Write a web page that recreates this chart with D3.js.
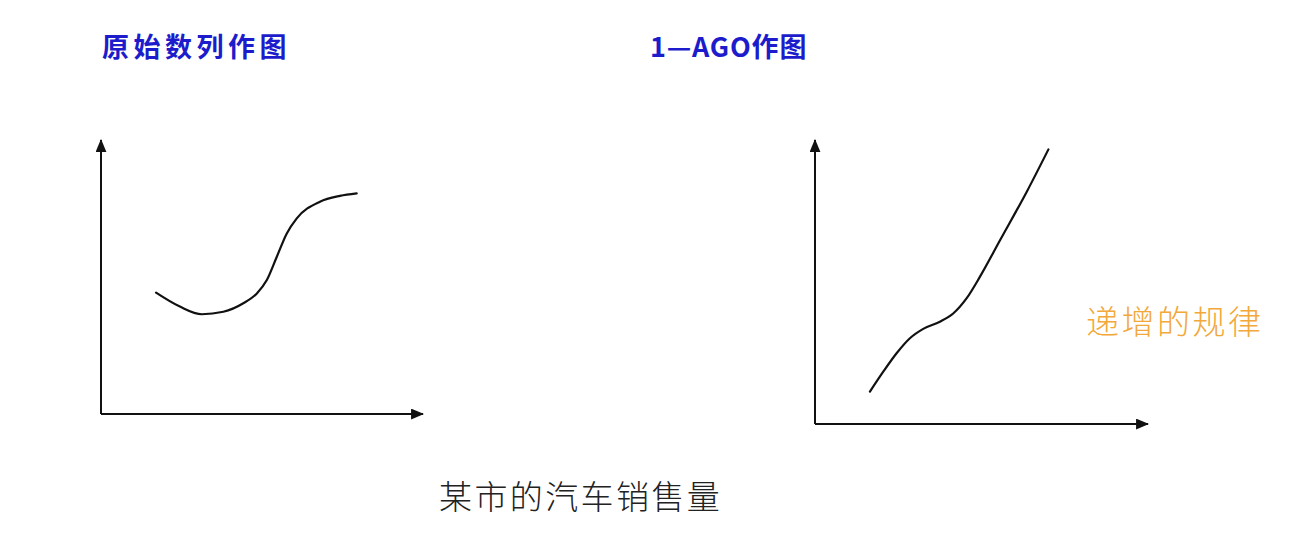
<!DOCTYPE html>
<html>
<head>
<meta charset="utf-8">
<script src="https://cdn.jsdelivr.net/npm/d3@7"></script>
<style>
  html, body { margin: 0; padding: 0; background: #fff; }
  svg { display: block; }
</style>
</head>
<body>
<div id="chart"></div>
<script>
// ---- data ----
const titles = ["原始数列作图", "1—AGO作图"];
const noteText = "递增的规律";
const captionText = "某市的汽车销售量";

// original series (schematic x/y, 0-100 units)
const rawX = [17.1, 24.5, 31.3, 38.0, 44.2, 48.4, 51.5, 54.6, 57.7, 60.8, 68.0, 74.2, 79.4];
const rawY = [44.3, 39.2, 36.4, 37.3, 40.4, 44.0, 48.9, 57.4, 65.9, 71.4, 77.5, 79.6, 80.5];

// 1-AGO accumulated series
const agoX = [16.5, 20.5, 24.5, 28.5, 32.5, 37.5, 41.5, 45.5, 49.5, 55.6, 63.6, 70.1];
const agoY = [11.4, 18.4, 24.9, 30.2, 33.5, 36.0, 38.9, 44.2, 51.8, 64.8, 81.8, 96.7];

const W = 1292, H = 546;
const svg = d3.select("#chart").append("svg").attr("width", W).attr("height", H);

const defs = svg.append("defs");
defs.append("marker")
  .attr("id", "arrow")
  .attr("viewBox", "0 0 12 10")
  .attr("refX", 11).attr("refY", 5)
  .attr("markerWidth", 13).attr("markerHeight", 11)
  .attr("markerUnits", "userSpaceOnUse")
  .attr("orient", "auto")
  .append("path").attr("d", "M0,0 L12,5 L0,10 Z").attr("fill", "#111");

function panel(cfg, xs, ys) {
  const x = d3.scaleLinear().domain([0, 100]).range([cfg.x0, cfg.x1]);
  const y = d3.scaleLinear().domain([0, 100]).range([cfg.y0, cfg.y1]);
  const g = svg.append("g");
  g.append("line")
    .attr("x1", x(0)).attr("y1", y(0)).attr("x2", x(100)).attr("y2", y(0))
    .attr("stroke", "#111").attr("stroke-width", 2).attr("marker-end", "url(#arrow)");
  g.append("line")
    .attr("x1", x(0)).attr("y1", y(0)).attr("x2", x(0)).attr("y2", y(100))
    .attr("stroke", "#111").attr("stroke-width", 2).attr("marker-end", "url(#arrow)");
  const pts = xs.map((v, i) => [v, ys[i]]);
  const line = d3.line().x(d => x(d[0])).y(d => y(d[1])).curve(d3.curveMonotoneX);
  g.append("path").datum(pts).attr("d", line)
    .attr("fill", "none").attr("stroke", "#111").attr("stroke-width", 2.2)
    .attr("stroke-linecap", "round").attr("stroke-linejoin", "round");
}

panel({x0: 101, x1: 423, y0: 414, y1: 140}, rawX, rawY);
panel({x0: 815, x1: 1148, y0: 424, y1: 140}, agoX, agoY);

// titles
svg.append("text").attr("x", 102).attr("y", 57)
  .attr("font-family", "'Noto Sans CJK SC', sans-serif").attr("font-weight", 700)
  .attr("font-size", 27).attr("letter-spacing", 4.5).attr("fill", "#1c1ccc")
  .text(titles[0]);
svg.append("text").attr("x", 650).attr("y", 57)
  .attr("font-family", "'Noto Sans CJK SC', sans-serif").attr("font-weight", 700)
  .attr("font-size", 27).attr("letter-spacing", 0.8).attr("fill", "#1c1ccc")
  .text(titles[1]);

svg.append("text").attr("x", 1086).attr("y", 334)
  .attr("font-family", "'Noto Sans CJK SC', sans-serif").attr("font-weight", 300)
  .attr("font-size", 33).attr("letter-spacing", 2.5).attr("fill", "#f2a83a")
  .text(noteText);

svg.append("text").attr("x", 439).attr("y", 509)
  .attr("font-family", "'Noto Sans CJK SC', sans-serif").attr("font-weight", 300)
  .attr("font-size", 33).attr("letter-spacing", 2.4).attr("fill", "#222")
  .text(captionText);
</script>
</body>
</html>
